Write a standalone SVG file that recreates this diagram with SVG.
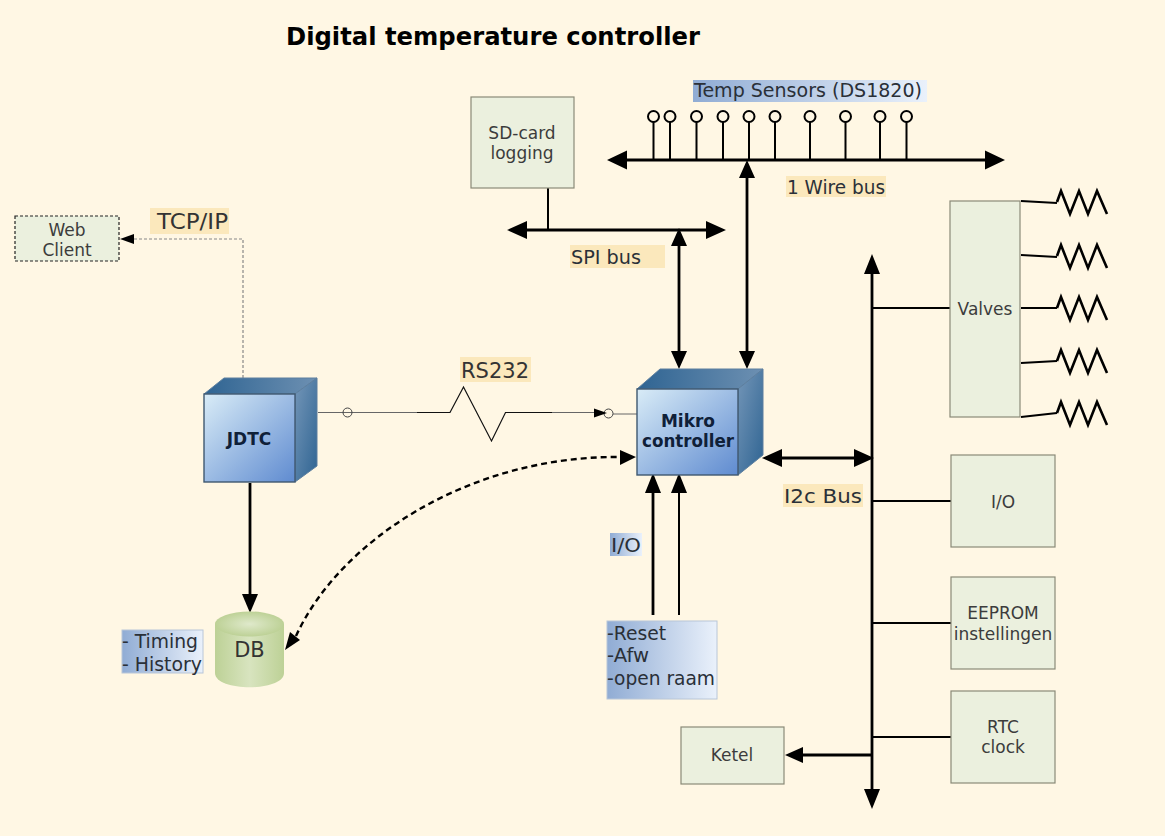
<svg xmlns="http://www.w3.org/2000/svg" width="1165" height="836" viewBox="0 0 1165 836">
<style>
text{font-family:"DejaVu Sans",Verdana,sans-serif;fill:#333}
.t{font-size:17px;fill:#3c3c3c}
.l{font-size:20px;fill:#2a3038}
.box{fill:#ebf0de;stroke:#8a8a78;stroke-width:1.2}
.w{fill:none;stroke:#000;stroke-width:2.800}
.s{fill:none;stroke:#000;stroke-width:2}
.h{fill:#000;stroke:none}
.b{font-size:17px;font-weight:bold;fill:#0f2038}
.y{fill:#fbe8bc}
.side{fill:url(#side);stroke:#5d7f9f;stroke-width:1}
.top{fill:url(#topg);stroke:#5d7f9f;stroke-width:1}
.front{fill:url(#front);stroke:#3f5870;stroke-width:1.400}
</style>
<defs>
<linearGradient id="front" x1="0" y1="0" x2="1" y2="1"><stop offset="0" stop-color="#d9ecf7"/><stop offset="1" stop-color="#5f8bd0"/></linearGradient>
<linearGradient id="side" x1="0" y1="0" x2="1" y2="1"><stop offset="0" stop-color="#7496b8"/><stop offset="1" stop-color="#2f6492"/></linearGradient>
<linearGradient id="topg" x1="0" y1="0" x2="1" y2="0"><stop offset="0" stop-color="#2f6492"/><stop offset="1" stop-color="#6d90b2"/></linearGradient>
<linearGradient id="lab" x1="0" y1="0" x2="1" y2="0"><stop offset="0" stop-color="#90acd4"/><stop offset="1" stop-color="#eaf1fb"/></linearGradient>
<linearGradient id="cyl" x1="0" y1="0" x2="1" y2="0"><stop offset="0" stop-color="#bdd196"/><stop offset=".5" stop-color="#d8e4bf"/><stop offset="1" stop-color="#bdd196"/></linearGradient>
<radialGradient id="cylt"><stop offset="0" stop-color="#dfe9cb"/><stop offset="1" stop-color="#bdd196"/></radialGradient>
</defs>
<rect width="1165" height="836" fill="#fff7e4"/>
<text x="286" y="45" font-size="25" font-weight="bold" textLength="414" lengthAdjust="spacingAndGlyphs" style="fill:#000">Digital temperature controller</text>

<g id="connectors">
<path class="w" d="M622 160H990"/>
<path class="h" d="M607 160l20-9.500v19zM1005 160l-20-9.500v19z"/>
<path class="s" d="M653.500 122V160M670 122V160M696.500 122V160M723 122V160M749 122V160M775 122V160M810 122V160M845.500 122V160M880 122V160M906.500 122V160"/>
<g fill="#fff7e4" stroke="#000" stroke-width="2"><circle cx="653.500" cy="116.500" r="5.500"/><circle cx="670" cy="116.500" r="5.500"/><circle cx="696.500" cy="116.500" r="5.500"/><circle cx="723" cy="116.500" r="5.500"/><circle cx="749" cy="116.500" r="5.500"/><circle cx="775" cy="116.500" r="5.500"/><circle cx="810" cy="116.500" r="5.500"/><circle cx="845.500" cy="116.500" r="5.500"/><circle cx="880" cy="116.500" r="5.500"/><circle cx="906.500" cy="116.500" r="5.500"/></g>
<path class="w" d="M747 175V353"/>
<path class="h" d="M747 160l-8 18h16zM747 369l-8-18h16z"/>
<path class="s" d="M548 188V230"/>
<path class="w" d="M522 230H712"/>
<path class="h" d="M507 230l20-9v18zM726 230l-20-9v18z"/>
<path class="w" d="M679 242V353"/>
<path class="h" d="M679 228l-8 18h16zM679 369l-8-18h16z"/>
<path class="w" d="M872 270V795"/>
<path class="h" d="M872 254l-8 20h16zM872 809l-8-20h16z"/>
<path class="w" d="M778 458H860"/>
<path class="h" d="M762 458l20-9v18zM874 458l-20-9v18z"/>
<path class="s" d="M872 308H950M872 501H951M872 623H951M872 737H951"/>
<path class="w" d="M800 755H872"/>
<path class="h" d="M785 755l18-8v16z"/>
<path class="s" d="M1021 201L1057 203M1021 255L1057 257M1021 308H1057M1021 363L1057 361M1021 417L1057 413"/>
<g fill="none" stroke="#000" stroke-width="2.600">
<path d="M1057 202L1061 191L1070 214L1079 191L1088 214L1097 191L1107 214"/>
<path d="M1057 256L1061 245L1070 268L1079 245L1088 268L1097 245L1107 268"/>
<path d="M1057 308L1061 297L1070 320L1079 297L1088 320L1097 297L1107 320"/>
<path d="M1057 361L1061 350L1070 373L1079 350L1088 373L1097 350L1107 373"/>
<path d="M1057 413L1061 402L1070 425L1079 402L1088 425L1097 402L1107 425"/>
</g>
<path fill="none" stroke="#666" stroke-width="1" d="M318 412.500H417M552 412.500H595M613 414H637"/>
<path fill="none" stroke="#111" stroke-width="1.200" d="M417 412.500H450L463.500 387L491.500 441L505.500 412.500H552"/>
<circle cx="347.500" cy="412.500" r="4.500" fill="none" stroke="#444" stroke-width="1"/>
<circle cx="608.500" cy="413.500" r="4.500" fill="none" stroke="#444" stroke-width="1"/>
<path class="h" d="M607 413l-13-4.500v9z"/>
<path fill="none" stroke="#888" stroke-width="1.200" stroke-dasharray="3 2" d="M243 378V239H134"/>
<path class="h" d="M120 239l14-5v10z"/>
<path class="w" d="M250 483V598"/>
<path class="h" d="M250 613l-8-19h16z"/>
<path class="w" d="M653 492V615"/>
<path class="h" d="M653 473l-8 20h16z"/>
<path class="s" d="M679 492V615"/>
<path class="h" d="M679 473l-8 20h16z"/>
<path fill="none" stroke="#000" stroke-width="2.400" stroke-dasharray="6 4" d="M296 636C340 540 470 455 622 457"/>
<path class="h" d="M636 457l-16-7v15zM285 650l15-10-10-8z"/>
</g>

<g id="temp-sensors-label"><rect x="693" y="80" width="234" height="22" fill="url(#lab)"/><text class="l" x="694" y="97" textLength="228" lengthAdjust="spacingAndGlyphs">Temp Sensors (DS1820)</text></g>
<g id="wire-bus-label"><rect class="y" x="786" y="176" width="100" height="21"/><text class="l" x="787" y="194" textLength="98" lengthAdjust="spacingAndGlyphs">1 Wire bus</text></g>
<g id="spi-label"><rect class="y" x="570" y="245" width="95" height="23"/><text class="l" x="571" y="264" textLength="70" lengthAdjust="spacingAndGlyphs">SPI bus</text></g>
<g id="tcp-label"><rect class="y" x="150" y="208" width="79" height="26"/><text x="157" y="229" font-size="22" textLength="71" lengthAdjust="spacingAndGlyphs">TCP/IP</text></g>
<g id="rs232-label"><rect class="y" x="460" y="357" width="71" height="25"/><text x="461" y="378" font-size="22" textLength="68" lengthAdjust="spacingAndGlyphs">RS232</text></g>
<g id="i2c-label"><rect class="y" x="783" y="484" width="80" height="23"/><text class="l" x="784" y="503" textLength="78" lengthAdjust="spacingAndGlyphs">I2c Bus</text></g>
<g id="io-label"><rect x="610" y="533" width="32" height="23" fill="url(#lab)"/><text class="l" x="611" y="552" textLength="30" lengthAdjust="spacingAndGlyphs">I/O</text></g>

<g id="web-client"><rect x="15" y="216" width="104" height="45" fill="#ebf0de" stroke="#222" stroke-width="1.200" stroke-dasharray="3 2"/><text class="t" x="67" y="236" text-anchor="middle">Web</text><text class="t" x="67" y="256" text-anchor="middle">Client</text></g>
<g id="sd-card"><rect class="box" x="471" y="97" width="103" height="91"/><text class="t" x="522" y="139" text-anchor="middle">SD-card</text><text class="t" x="522" y="159" text-anchor="middle">logging</text></g>
<g id="jdtc"><path class="top" d="M204 394L224 378H317L295 394Z"/><path class="side" d="M295 394L317 378V466L295 482Z"/><rect class="front" x="204" y="394" width="91" height="88"/><text class="b" x="249" y="445" text-anchor="middle">JDTC</text></g>
<g id="mikro"><path class="top" d="M637 389L660 369H763L738 389Z"/><path class="side" d="M738 389L763 369V455L738 475Z"/><rect class="front" x="637" y="389" width="101" height="86"/><text class="b" x="688" y="427" text-anchor="middle">Mikro</text><text class="b" x="688" y="447" text-anchor="middle" textLength="92" lengthAdjust="spacingAndGlyphs">controller</text></g>
<g id="db"><path d="M215 624V673C215 692 284 692 284 673V624Z" fill="url(#cyl)"/><ellipse cx="249.500" cy="624" rx="34.500" ry="12.500" fill="url(#cylt)"/><text x="249.500" y="657" font-size="21" text-anchor="middle">DB</text></g>
<g id="db-note"><rect x="122" y="630" width="81" height="43" fill="url(#lab)" stroke="#b8c6d8" stroke-width="1"/><text class="l" x="122" y="648" textLength="76" lengthAdjust="spacingAndGlyphs">- Timing</text><text class="l" x="122" y="671" textLength="80" lengthAdjust="spacingAndGlyphs">- History</text></g>
<g id="inputs"><rect x="607" y="621" width="110" height="78" fill="url(#lab)" stroke="#b8c6d8" stroke-width="1"/><text class="l" x="607" y="640" textLength="59" lengthAdjust="spacingAndGlyphs">-Reset</text><text class="l" x="607" y="662" textLength="42" lengthAdjust="spacingAndGlyphs">-Afw</text><text class="l" x="607" y="685" textLength="108" lengthAdjust="spacingAndGlyphs">-open raam</text></g>
<g id="valves"><rect class="box" x="950" y="201" width="70" height="216"/><text class="t" x="985" y="315" text-anchor="middle">Valves</text></g>
<g id="io"><rect class="box" x="951" y="455" width="104" height="92"/><text class="t" x="1003" y="508" text-anchor="middle">I/O</text></g>
<g id="eeprom"><rect class="box" x="951" y="577" width="104" height="92"/><text class="t" x="1003" y="619" text-anchor="middle">EEPROM</text><text class="t" x="1003" y="640" text-anchor="middle">instellingen</text></g>
<g id="rtc"><rect class="box" x="951" y="691" width="104" height="92"/><text class="t" x="1003" y="733" text-anchor="middle">RTC</text><text class="t" x="1003" y="753" text-anchor="middle">clock</text></g>
<g id="ketel"><rect class="box" x="681" y="727" width="103" height="57"/><text class="t" x="732" y="761" text-anchor="middle">Ketel</text></g>
</svg>
